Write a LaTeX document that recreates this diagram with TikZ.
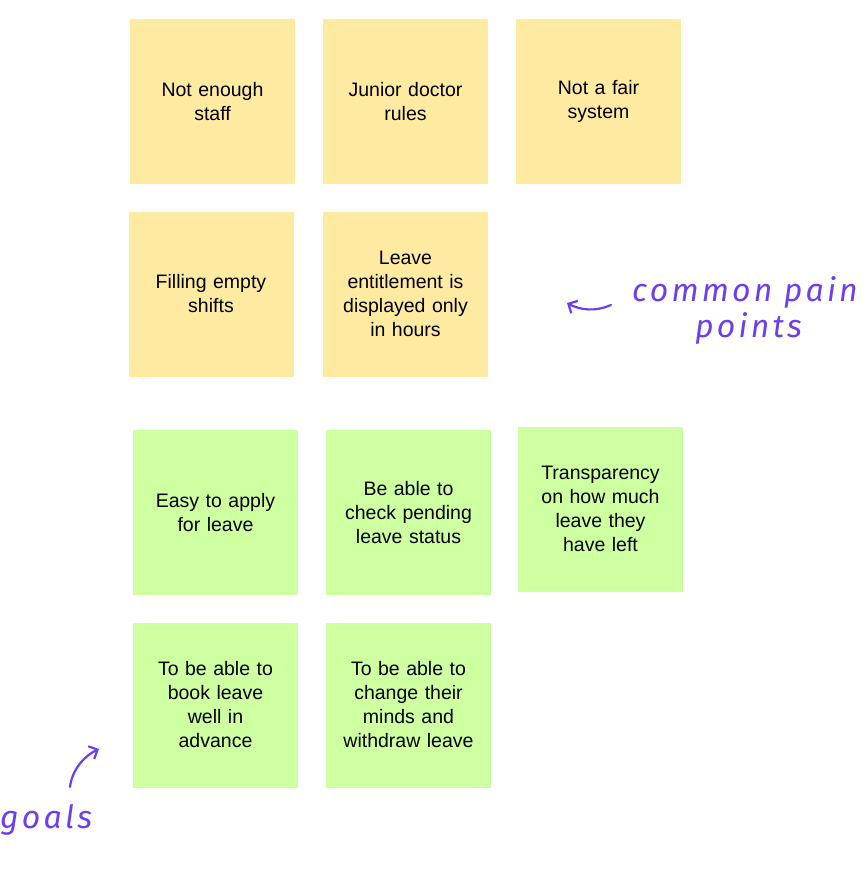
\documentclass[tikz,border=0pt]{standalone}
\usepackage{fontspec}
\setmainfont{Liberation Sans}
\newfontfamily\handfont[LetterSpace=10]{Fira Sans Italic}
\usetikzlibrary{arrows.meta}
\definecolor{painyellow}{RGB}{255,234,161}
\definecolor{goalgreen}{RGB}{206,255,161}
\definecolor{penpurple}{RGB}{108,62,242}
\begin{document}
\begin{tikzpicture}[x=1pt,y=-1pt,
    sticky/.style={minimum size=165pt,inner sep=0,text width=155pt,align=center,
      font=\fontsize{19.5}{24}\selectfont},
    pain/.style={sticky,fill=painyellow},
    goal/.style={sticky,fill=goalgreen},
    scribble/.style={text=penpurple,font=\handfont\fontsize{32}{36}\selectfont},
    pen/.style={draw=penpurple,line width=2.2pt,line cap=round,
      -{Straight Barb[length=7pt,width=14pt,line width=2.2pt]}}]
    \useasboundingbox (0,0) rectangle (863,872);
    % pain points
    \node[pain] (staff) at (212.5,101.5) {Not enough\\staff};
    \node[pain] (junior) at (405.5,101.5) {Junior doctor\\rules};
    \node[pain] (fair) at (598.5,101.5) {Not a fair\\system};
    \node[pain] (shifts) at (211,294) {Filling empty\\shifts};
    \node[pain] (hours) at (405.5,294) {Leave\\entitlement is\\displayed only\\in hours};
    % goals
    \node[goal] (apply) at (215.5,512.5) {Easy to apply\\for leave};
    \node[goal] (pending) at (408.5,512.5) {Be able to\\check pending\\leave status};
    \node[goal] (transp) at (600.5,509) {Transparency\\on how much\\leave they\\have left};
    \node[goal] (advance) at (215.5,705) {To be able to\\book leave\\well in\\advance};
    \node[goal] (withdraw) at (408.5,705) {To be able to\\change their\\minds and\\withdraw leave};
    % handwritten notes
    \node[scribble,anchor=west,inner sep=0] (common) at (632,292) {common pain};
    \node[scribble,anchor=west,inner sep=0] (points) at (695,328) {points};
    \node[scribble,anchor=west,inner sep=0] (goals) at (0,820) {goals};
    \coordinate (painfrom) at (611,305);
    \coordinate (painto) at (567,303);
    \coordinate (goalfrom) at (70,787);
    \coordinate (goalto) at (99,749);
    \draw[pen] (painfrom) .. controls (595,312) and (580,310) .. (painto);
    \draw[pen] (goalfrom) .. controls (72,770) and (84,756) .. (goalto);
  \end{tikzpicture}
\end{document}
